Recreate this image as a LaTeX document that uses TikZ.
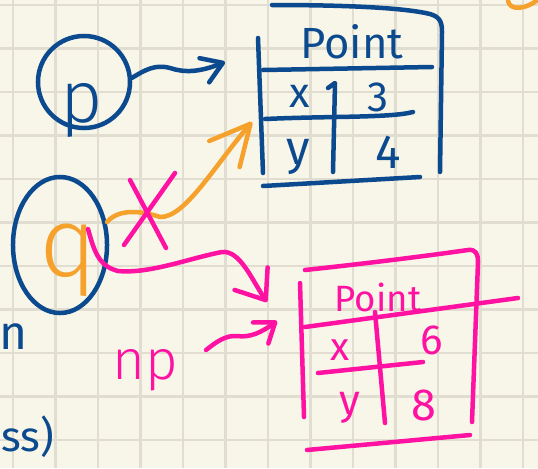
\documentclass[tikz,border=0pt]{standalone}
\usepackage{fontspec}
\setmainfont{Fira Sans}
\newfontfamily\fina{Fira Sans Light}
\usepackage{xcolor}
\usepackage{tikz}
\usetikzlibrary{arrows.meta,positioning,shapes.geometric,calc}
\definecolor{papel}{HTML}{F8F5E9}
\definecolor{gradeCor}{HTML}{E1DED1}
\definecolor{azul}{HTML}{0B4A8E}
\definecolor{rosa}{HTML}{FF12A2}
\definecolor{laranja}{HTML}{F5A12C}
\tikzset{
    caneta/.style={line width=3.2pt, line cap=round, line join=round},
    azulCaneta/.style={caneta, draw=azul},
    rosaCaneta/.style={caneta, draw=rosa},
    laranjaCaneta/.style={caneta, draw=laranja},
    seta/.style 2 args={-{Straight Barb[round, length=#1, width=#2]}},
    letra/.style={inner sep=0pt, font=\fontsize{#1}{#1}\selectfont},
    letraFina/.style={inner sep=0pt, font=\fina\fontsize{#1}{#1}\selectfont},
    grade/.style={draw=gradeCor, line width=1.5pt}
}

\begin{document}
\begin{tikzpicture}[x=0.025cm, y=-0.025cm]
    \useasboundingbox (0,0) rectangle (538,468);
    \clip (0,0) rectangle (538,468);
    \fill[papel] (0,0) rectangle (538,468);
    % papel quadriculado
    \foreach \gx in {0,...,12}
        \draw[grade] ({13+42.5*\gx},0) -- ({13+42.5*\gx},468);
    \foreach \gy in {0,...,10}
        \draw[grade] (0,{5+43.5*\gy}) -- (538,{5+43.5*\gy});

    % p e a primeira tabela
    \node[azulCaneta, circle, minimum size=2.3cm, inner sep=0pt] (pcirc) at (84,82) {};
    \node[letraFina=52, text=azul] (p) at (82,110) {p};

    \node[letra=31, text=azul] (ponto1) at (352,42) {Point};
    \node[letra=30, text=azul] (x1) at (300,96) {x};
    \node[letra=30, text=azul] (v3) at (378,97) {3};
    \node[letra=34, text=azul] (y1) at (298,157) {y};
    \node[letra=34, text=azul] (v4) at (388,152) {4};

    \draw[azulCaneta] (272,5) .. controls (350,5) and (405,8) .. (430,14)
        .. controls (440,17) and (442,22) .. (442,32) -- (440,172);
    \draw[azulCaneta] (258,38) -- (263,173);
    \draw[azulCaneta] (263,70) -- (432,67);
    \draw[azulCaneta] (265,119) .. controls (330,116) and (390,118) .. (413,112);
    \draw[azulCaneta] (328,88) -- (335,83) -- (333,172);
    \draw[azulCaneta] (263,186) -- (420,177);

    \coordinate (t1azul) at (225,62);
    \coordinate (t1laranja) at (252,122);
    \draw[azulCaneta, seta={5mm}{6.5mm}] (pcirc.5) .. controls (145,70) and (155,64) .. (170,68)
        .. controls (185,73) and (200,72) .. (t1azul);

    % q
    \node[azulCaneta, ellipse, minimum width=2.35cm, minimum height=3.4cm, inner sep=0pt] (qcirc) at (60,245) {};
    \node[letraFina=70, text=laranja] (q) at (68,260) {q};

    \draw[laranjaCaneta, seta={1cm}{1cm}] ($(qcirc.center)+(47,-23)$) .. controls (120,207) and (145,212) .. (160,217)
        .. controls (185,218) and (215,165) .. (t1laranja);

    % X rosa
    \draw[rosaCaneta] (130,180) -- (166,248);
    \draw[rosaCaneta] (175,173) -- (124,245);

    % segunda tabela
    \node[letra=26, text=rosa] (ponto2) at (378,297) {Point};
    \node[letra=28, text=rosa] (x2) at (340,350) {x};
    \node[letra=30, text=rosa] (v6) at (432,340) {6};
    \node[letra=30, text=rosa] (y2) at (350,408) {y};
    \node[letra=32, text=rosa] (v8) at (424,405) {8};

    \draw[rosaCaneta] (305,270) .. controls (380,262) and (440,254) .. (468,250)
        .. controls (476,249) and (478,254) .. (478,262) -- (472,422);
    \draw[rosaCaneta] (300,283) -- (304,417);
    \draw[rosaCaneta] (305,327) -- (518,298);
    \draw[rosaCaneta] (318,373) -- (423,362);
    \draw[rosaCaneta] (375,312) -- (385,423);
    \draw[rosaCaneta] (307,450) -- (470,435);

    \coordinate (t2q) at (267,302);
    \coordinate (t2np) at (277,321);
    \draw[rosaCaneta, seta={6.5mm}{1cm}] ($(qcirc.center)+(28,-16)$) .. controls (94,250) and (98,266) .. (118,271)
        .. controls (150,274) and (190,258) .. (222,252)
        .. controls (240,250) and (252,280) .. (t2q);

    \node[letraFina=40, text=rosa] (np) at (145,370) {np};
    \draw[rosaCaneta, seta={4.5mm}{6.5mm}] ($(np.east)+(28,-20)$) .. controls (215,343) and (225,335) .. (237,336)
        .. controls (250,338) and (262,332) .. (t2np);

    % restos de texto nas bordas
    \node[letra=34, text=azul] (borda1) at (14,337) {n};
    \node[letra=30, text=azul] (borda2) at (28,437) {ss)};
    \draw[laranjaCaneta] (508,1) .. controls (510,11) and (526,10) .. (540,-2);
\end{tikzpicture}
\end{document}
